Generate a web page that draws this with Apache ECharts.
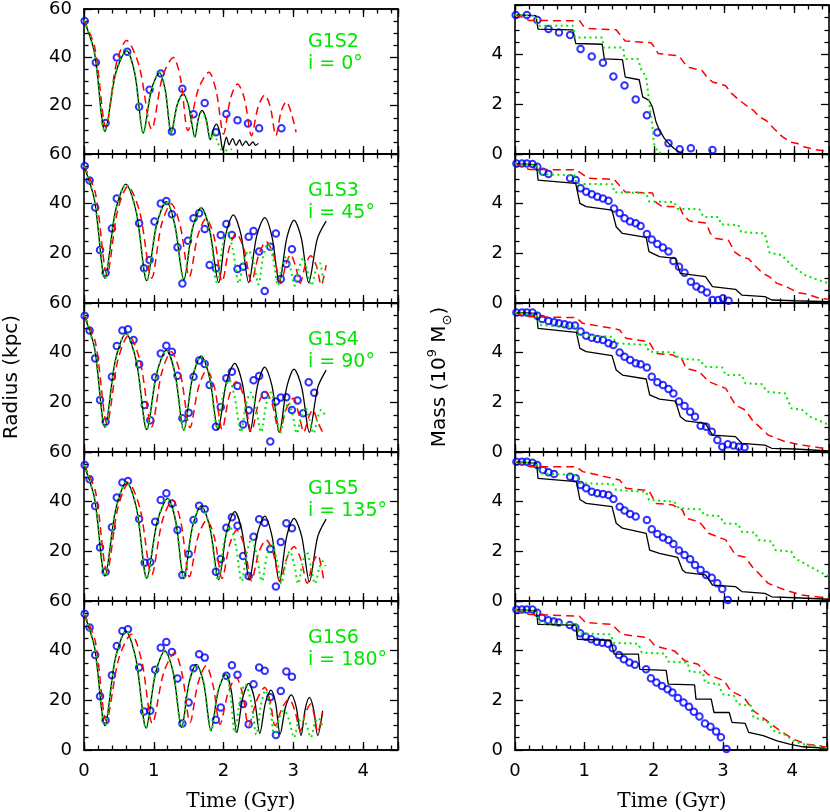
<!DOCTYPE html>
<html>
<head>
<meta charset="utf-8">
<title>Satellite radius and mass</title>
<script src="https://cdn.jsdelivr.net/npm/echarts@6/dist/echarts.min.js"></script>
<style>
  html, body { margin: 0; padding: 0; background: #fff; }
  #chart { width: 830px; height: 812px; }
</style>
</head>
<body>
<div id="chart"></div>
<script>
// ---- tick labels ----
const timeTicks = [0, 1, 2, 3, 4];
const radiusTicks = [20, 40, 60];
const radiusTicksBottom = [0, 20, 40, 60];
const massTicks = [0, 2, 4];

const runs = ['G1S2', 'G1S3', 'G1S4', 'G1S5', 'G1S6'];
const inclinations = ['i = 0°', 'i = 45°', 'i = 90°', 'i = 135°', 'i = 180°'];

// ---- radius (kpc) vs time (Gyr) ----
const radS2Black = [[0,55.3],[0.15,42],[0.30,9.3],[0.455,33.5],[0.61,42.8],[0.73,33],[0.85,8.6],[0.965,26.5],[1.08,33.6],[1.165,26.3],[1.25,8.6],[1.335,20.3],[1.42,25],[1.50,19.8],[1.59,7],[1.64,14.8],[1.69,18],[1.75,14.5],[1.81,5.9],[1.855,10.4],[1.90,12.4],[1.945,9],[1.99,1.6],[2.04,7],[2.08,3.8],[2.13,6.4],[2.18,3.6],[2.23,5.8],[2.27,3.5],[2.32,5.3],[2.37,3.5],[2.42,5],[2.46,3.6],[2.50,4.4]];
const radS2Green = [[0,55.3],[0.15,42],[0.30,9.3],[0.455,33.5],[0.61,42.8],[0.73,33],[0.85,8.6],[0.965,26.5],[1.08,33.6],[1.165,26.3],[1.25,8.6],[1.335,20.3],[1.42,25],[1.50,19.8],[1.59,7],[1.64,14.5],[1.69,17.5],[1.75,14],[1.81,6],[1.86,8.6],[1.90,6],[1.97,1.8],[2.05,1.5],[2.12,2]];
const radS2Red = [[0,55.3],[0.155,44],[0.315,11],[0.46,37],[0.61,47],[0.79,36.5],[0.97,10.3],[1.125,32],[1.28,39.9],[1.385,31],[1.49,9.7],[1.64,27],[1.79,33.8],[1.895,26],[2.0,8.3],[2.10,23],[2.20,29],[2.30,22.8],[2.40,7.6],[2.495,19.5],[2.59,24.4],[2.67,19.5],[2.75,7.6],[2.825,17.6],[2.90,21.7],[2.97,17],[3.04,9]];
const radS2Sat = [[0.01,55],[0.17,37.9],[0.31,12.8],[0.47,39.9],[0.62,42.3],[0.79,19.6],[0.94,26.6],[1.10,33.3],[1.26,9.3],[1.41,27],[1.57,16.4],[1.73,21.1],[1.89,9],[2.04,16.6],[2.20,14],[2.35,12.6],[2.51,10.7],[2.83,10.7]];

const radS3Black = [[0,55.2],[0.15,41.5],[0.30,9.9],[0.45,37],[0.60,47.9],[0.75,36.5],[0.90,9],[1.04,31.5],[1.18,40.8],[1.305,31],[1.43,9.3],[1.555,30],[1.68,38.4],[1.80,29.5],[1.93,8.2],[2.03,27.5],[2.14,35.5],[2.25,27.5],[2.36,8.2],[2.475,27],[2.59,34.4],[2.695,26.5],[2.80,8.2],[2.905,26],[3.01,33.4],[3.115,26],[3.22,8.2],[3.345,26],[3.47,33]];
const radS3Green = [[0,55.2],[0.15,41.5],[0.30,9.9],[0.45,37],[0.60,47.9],[0.75,36.5],[0.90,9],[1.04,31.5],[1.18,40.8],[1.305,31],[1.43,9.3],[1.555,30],[1.68,38.4],[1.80,29.5],[1.90,8.5],[1.98,22],[2.05,29],[2.13,22],[2.22,8],[2.29,17],[2.36,21],[2.43,16],[2.50,7.5],[2.57,19],[2.64,24],[2.71,18],[2.78,7],[2.84,15],[2.90,19],[2.96,14],[3.02,7],[3.08,14],[3.14,18],[3.20,13],[3.26,7],[3.32,13],[3.38,16],[3.43,8]];
const radS3Red = [[0,55.2],[0.165,44],[0.33,11.5],[0.48,37],[0.63,47],[0.80,36.5],[0.97,10],[1.11,31.5],[1.25,40],[1.38,31],[1.51,10.6],[1.63,27],[1.75,34],[1.865,26.5],[1.98,8.6],[2.08,22],[2.18,28],[2.29,22],[2.40,8.6],[2.505,19.5],[2.61,24.7],[2.715,19.5],[2.82,7.9],[2.89,15],[2.96,19.5],[3.03,15],[3.10,8],[3.17,15],[3.25,19],[3.33,15],[3.40,7.2],[3.47,15.3]];
const radS3Sat = [[0.01,55.2],[0.08,49.3],[0.16,38.5],[0.23,21.3],[0.31,12.2],[0.40,30],[0.47,42.1],[0.79,32.1],[0.86,14],[0.94,17.3],[1.01,32.8],[1.10,40.1],[1.18,41.1],[1.26,35.7],[1.34,22.4],[1.41,7.9],[1.49,25.1],[1.57,34.1],[1.65,36.1],[1.73,29.8],[1.80,15.3],[1.89,14],[1.96,27.4],[2.04,31.8],[2.12,27.4],[2.20,13.7],[2.28,14.6],[2.36,26.7],[2.43,29],[2.51,20.7],[2.59,4.8],[2.67,22.7],[2.75,28],[2.82,9.7],[2.90,15.7],[2.98,21.6],[3.06,9.9]];

const radS4Black = [[0,55.2],[0.15,42],[0.30,9.9],[0.45,37],[0.60,47.8],[0.75,36.5],[0.90,9],[1.04,31.5],[1.18,41],[1.305,31.5],[1.43,8.7],[1.555,30],[1.68,38.7],[1.80,30],[1.92,9],[2.04,28],[2.16,35.7],[2.27,27.5],[2.38,8.2],[2.485,26.5],[2.59,34.2],[2.695,26.5],[2.80,7.9],[2.905,26],[3.01,33.4],[3.12,26],[3.23,7.9],[3.35,26],[3.47,33]];
const radS4Green = [[0,55.2],[0.15,42],[0.30,9.9],[0.45,37],[0.60,47.8],[0.75,36.5],[0.90,9],[1.04,31.5],[1.18,41],[1.305,31.5],[1.43,8.7],[1.555,30],[1.68,38.7],[1.80,30],[1.91,9.5],[2.00,24],[2.08,29],[2.16,22],[2.25,8],[2.32,19],[2.39,24],[2.46,18],[2.54,8],[2.61,19],[2.68,24],[2.74,18],[2.81,7.5],[2.87,15],[2.93,20],[2.99,15],[3.05,7.5],[3.11,14],[3.17,18],[3.23,13],[3.29,7.5],[3.35,14],[3.40,17],[3.45,15]];
const radS4Red = [[0,55.2],[0.165,44],[0.33,11.5],[0.485,37],[0.64,47],[0.805,36.5],[0.97,10.2],[1.11,31.5],[1.25,40.4],[1.385,31],[1.52,9.8],[1.64,26],[1.76,33],[1.87,26],[1.98,9.1],[2.08,22.5],[2.18,28.3],[2.29,22.5],[2.40,8.2],[2.50,19.5],[2.60,24.3],[2.70,19],[2.80,8],[2.90,17.5],[3.00,21.6],[3.08,15],[3.15,8],[3.22,14],[3.28,17],[3.35,12],[3.42,8]];
const radS4Sat = [[0.01,54.9],[0.08,48.9],[0.16,37.7],[0.23,20.9],[0.31,12.2],[0.40,30.3],[0.47,42.7],[0.55,48.9],[0.63,49.4],[0.71,45.1],[0.79,35.3],[0.87,18.9],[0.95,12.8],[1.02,30.1],[1.10,39.7],[1.18,42.8],[1.26,40.4],[1.34,30.7],[1.41,13.6],[1.50,15.8],[1.57,30.3],[1.65,36.8],[1.73,35.4],[1.80,27],[1.89,10.2],[1.96,18.1],[2.04,29.7],[2.12,32.3],[2.20,26.6],[2.28,11.1],[2.36,16.8],[2.43,28.9],[2.51,30.6],[2.59,23],[2.67,4.2],[2.75,20.3],[2.82,21.9],[2.90,22],[2.98,16.9],[3.06,20.7],[3.14,15.6],[3.22,28.1],[3.30,23.9]];

const radS5Black = [[0,54.8],[0.15,41.5],[0.30,10],[0.455,37],[0.61,48],[0.755,37],[0.90,9.1],[1.05,32],[1.20,41.3],[1.315,32],[1.43,9.1],[1.555,30],[1.68,38.3],[1.805,29.5],[1.93,8.5],[2.045,28],[2.16,36],[2.265,28],[2.37,8.5],[2.48,26.5],[2.59,34.2],[2.695,26],[2.80,7.8],[2.905,26],[3.01,33.3],[3.12,26],[3.23,7.8],[3.35,26],[3.47,33]];
const radS5Green = [[0,54.8],[0.15,41.5],[0.30,10],[0.455,37],[0.61,48],[0.755,37],[0.90,9.1],[1.05,32],[1.20,41.3],[1.315,32],[1.43,9.1],[1.555,30],[1.68,38.3],[1.805,29.5],[1.92,8.5],[2.01,24],[2.09,30],[2.17,23],[2.26,8],[2.33,19],[2.40,25],[2.47,19],[2.55,8],[2.62,18],[2.69,23],[2.76,17],[2.83,7],[2.89,15],[2.95,20],[3.01,15],[3.07,7],[3.13,15],[3.19,20],[3.25,14],[3.31,7],[3.37,13],[3.42,16],[3.46,14]];
const radS5Red = [[0,54.8],[0.165,44],[0.33,11.8],[0.485,37.5],[0.64,47.4],[0.805,37],[0.97,10.5],[1.12,32],[1.27,40.7],[1.39,31.5],[1.51,9.8],[1.635,26],[1.76,32.6],[1.87,25.5],[1.98,9.1],[2.085,22.5],[2.19,28.6],[2.295,22.5],[2.40,8.2],[2.505,19.5],[2.61,24.6],[2.71,19.5],[2.81,7.8],[2.91,17.5],[3.01,21.9],[3.105,17],[3.20,7.1],[3.275,15],[3.35,18.5],[3.40,14],[3.44,7.8]];
const radS5Sat = [[0.01,54.8],[0.08,49],[0.16,38.3],[0.23,21.5],[0.31,11.8],[0.40,29.7],[0.47,41.7],[0.55,47.7],[0.63,48.3],[0.79,33],[0.87,15.4],[0.95,15.6],[1.02,31.9],[1.10,40.7],[1.18,43.4],[1.26,39.3],[1.34,28.6],[1.41,10.5],[1.50,18.9],[1.57,32.6],[1.65,38.4],[1.73,36.9],[1.89,11.8],[1.96,16.9],[2.04,29.5],[2.12,33.7],[2.20,30.3],[2.28,18.1],[2.36,10.1],[2.43,25.9],[2.51,32.9],[2.59,31.5],[2.67,20.9],[2.75,5.8],[2.82,23.8],[2.90,31.3],[2.98,29.3]];

const radS6Black = [[0,54.9],[0.15,41.5],[0.30,9.8],[0.45,37],[0.60,47.9],[0.745,36.5],[0.89,8.8],[1.025,31],[1.16,39.9],[1.28,31],[1.40,9.1],[1.505,27],[1.61,34.5],[1.715,27],[1.82,7.8],[1.925,24],[2.03,30.5],[2.11,24],[2.19,7.1],[2.275,21],[2.36,26.8],[2.44,21],[2.52,6.7],[2.60,19],[2.68,24.1],[2.745,19],[2.81,6.4],[2.89,17.5],[2.97,22.2],[3.04,17.5],[3.11,5.8],[3.17,16.5],[3.23,21.2],[3.29,16.5],[3.35,5.8],[3.42,15.8]];
const radS6Green = [[0,54.9],[0.15,41.5],[0.30,9.8],[0.45,37],[0.60,47.9],[0.745,36.5],[0.89,8.8],[1.025,31],[1.16,39.9],[1.28,31],[1.40,9.1],[1.505,27],[1.61,34.5],[1.715,27],[1.82,7.8],[1.925,24],[2.03,30.5],[2.10,22],[2.16,7],[2.235,20],[2.31,26.5],[2.39,20],[2.47,6.2],[2.535,18],[2.60,24],[2.665,18],[2.73,5.4],[2.80,13],[2.87,16],[2.94,12],[3.01,5],[3.07,11],[3.13,13],[3.19,10],[3.25,5],[3.31,11],[3.36,13],[3.42,9]];
const radS6Red = [[0,54.9],[0.16,44],[0.32,11.8],[0.50,37],[0.68,46.6],[0.83,35.5],[0.98,10.7],[1.14,31],[1.30,39.2],[1.41,30],[1.52,11.1],[1.635,27],[1.75,33.9],[1.85,26],[1.95,10.4],[2.065,23],[2.18,29.2],[2.27,23],[2.36,9.8],[2.475,20],[2.59,25.2],[2.665,20],[2.74,9.8],[2.84,17],[2.94,20.5],[3.02,16],[3.10,7.8],[3.175,15],[3.25,18.5],[3.30,14],[3.35,7.1],[3.42,15.1]];
const radS6Sat = [[0.01,54.9],[0.08,49.3],[0.16,38.3],[0.23,21.6],[0.31,12],[0.40,30.1],[0.47,41.9],[0.55,47.9],[0.63,48.6],[0.79,33.2],[0.86,15.5],[0.95,15.8],[1.02,32.3],[1.10,41.2],[1.18,43.5],[1.26,39.5],[1.34,28.8],[1.41,10.7],[1.50,19.1],[1.57,32.9],[1.65,38.6],[1.73,37.2],[1.89,12.2],[1.96,17.1],[2.04,29.9],[2.12,34.1],[2.20,30.3],[2.28,18.5],[2.36,10.4],[2.43,26.5],[2.51,33.2],[2.59,31.9],[2.67,21.2],[2.75,6],[2.82,23.8],[2.90,31.6],[2.98,29.5]];

// ---- bound mass (1e9 Msun) vs time (Gyr) ----
const massS2Black = [[0,5.6],[0.30,5.57],[0.33,5.03],[0.83,5.0],[0.87,4.45],[1.25,4.42],[1.28,3.83],[1.54,3.8],[1.58,3.1],[1.78,2.99],[1.83,2.3],[1.92,2.16],[1.97,1.89],[2.02,1.3],[2.07,0.96],[2.14,0.63],[2.21,0.4],[2.28,0.22],[2.35,0.09],[2.42,0]];
const massS2Green = [[0,5.6],[0.30,5.56],[0.31,5.16],[0.83,5.16],[0.86,4.69],[1.25,4.69],[1.27,4.29],[1.55,4.29],[1.57,3.83],[1.76,3.83],[1.81,3.4],[1.88,3.09],[1.92,2.16],[1.97,1.09],[1.99,0.43],[2.04,0.09],[2.14,0]];
const massS2Red = [[0,5.6],[0.12,5.5],[0.20,5.38],[0.93,5.36],[0.98,5.15],[1.05,5.05],[1.45,5.0],[1.52,4.75],[1.58,4.55],[1.95,4.48],[2.0,4.3],[2.05,4.05],[2.35,3.95],[2.43,3.65],[2.5,3.48],[2.68,3.36],[2.75,3.1],[2.83,2.9],[3.02,2.75],[3.1,2.45],[3.2,2.2],[3.34,1.9],[3.42,1.75],[3.5,1.5],[3.6,1.35],[3.72,1.0],[3.83,0.7],[3.95,0.48],[4.05,0.42],[4.15,0.28],[4.3,0.18],[4.5,0.1]];
const massS2Sat = [[0.01,5.6],[0.17,5.6],[0.32,5.4],[0.48,5.03],[0.63,4.89],[0.79,4.79],[0.94,4.23],[1.10,3.93],[1.26,3.67],[1.41,3.12],[1.57,2.76],[1.73,2.19],[1.89,1.56],[2.04,0.87],[2.20,0.43],[2.36,0.19],[2.52,0.23],[2.83,0.16]];

const massS3Black = [[0,5.62],[0.31,5.56],[0.33,4.95],[0.87,4.82],[0.93,4.01],[1.02,3.88],[1.39,3.74],[1.45,3.07],[1.54,2.8],[1.88,2.64],[1.92,2.07],[2.07,1.87],[2.30,1.8],[2.37,1.19],[2.73,1.06],[2.83,0.66],[3.16,0.55],[3.25,0.32],[3.58,0.26],[3.68,0.12],[4.01,0.09],[4.5,0.05]];
const massS3Green = [[0,5.62],[0.31,5.56],[0.35,5.18],[0.85,5.15],[0.88,4.8],[1.40,4.78],[1.42,4.46],[1.88,4.42],[1.92,4.09],[2.28,4.06],[2.33,3.79],[2.64,3.78],[2.70,3.47],[2.92,3.46],[2.95,3.17],[3.20,3.14],[3.24,2.86],[3.58,2.8],[3.65,2.02],[3.82,1.93],[3.96,1.53],[4.15,1.13],[4.34,0.93],[4.5,0.79]];
const massS3Red = [[0,5.62],[0.1,5.5],[0.2,5.38],[0.88,5.36],[0.95,5.22],[1.05,5.02],[1.42,4.98],[1.5,4.72],[1.58,4.47],[1.97,4.43],[2.02,4.05],[2.1,3.9],[2.36,3.86],[2.42,3.5],[2.5,3.3],[2.74,3.22],[2.8,2.8],[2.88,2.6],[3.06,2.52],[3.15,2.05],[3.25,1.85],[3.35,1.78],[3.45,1.47],[3.55,1.2],[3.65,1.05],[3.75,0.8],[3.9,0.64],[4.05,0.42],[4.2,0.35],[4.35,0.2],[4.5,0.15]];
const massS3Sat = [[0.02,5.62],[0.10,5.62],[0.17,5.62],[0.25,5.6],[0.32,5.49],[0.40,5.29],[0.48,5.19],[0.79,5.02],[0.87,4.95],[0.94,4.62],[1.02,4.48],[1.10,4.38],[1.18,4.28],[1.26,4.21],[1.34,4.12],[1.42,3.81],[1.50,3.61],[1.57,3.41],[1.65,3.28],[1.73,3.21],[1.80,3.1],[1.89,2.78],[1.96,2.56],[2.04,2.38],[2.12,2.23],[2.20,2.07],[2.27,1.69],[2.35,1.46],[2.43,1.22],[2.52,0.86],[2.60,0.66],[2.67,0.55],[2.75,0.42],[2.83,0.12],[2.91,0.12],[2.98,0.19],[3.06,0.09]];

const massS4Black = [[0,5.62],[0.31,5.58],[0.33,4.98],[0.88,4.82],[0.93,4.17],[1.02,4.04],[1.39,3.88],[1.45,3.3],[1.54,3.1],[1.88,2.94],[1.93,2.3],[2.07,2.13],[2.30,2.05],[2.37,1.42],[2.45,1.25],[2.73,1.15],[2.83,0.68],[3.16,0.62],[3.25,0.35],[3.58,0.28],[3.68,0.15],[4.01,0.12],[4.5,0.04]];
const massS4Green = [[0,5.62],[0.31,5.52],[0.35,5.11],[0.88,5.05],[0.90,4.71],[1.40,4.64],[1.45,4.38],[1.88,4.31],[1.92,4.04],[2.28,4.01],[2.35,3.77],[2.66,3.7],[2.71,3.44],[2.97,3.4],[3.02,3.1],[3.25,3.1],[3.30,2.77],[3.54,2.73],[3.61,2.43],[3.87,2.36],[3.96,1.76],[4.11,1.7],[4.23,1.42],[4.5,1.09]];
const massS4Red = [[0,5.62],[0.1,5.5],[0.21,5.45],[0.88,5.41],[0.97,5.18],[1.4,4.98],[1.5,4.91],[1.59,4.58],[1.92,4.44],[2.02,3.97],[2.26,3.91],[2.4,3.7],[2.45,3.37],[2.64,3.23],[2.78,2.83],[3.02,2.56],[3.16,1.89],[3.3,1.69],[3.4,1.29],[3.63,0.68],[3.87,0.42],[4.11,0.28],[4.5,0.12]];
const massS4Sat = [[0.02,5.62],[0.10,5.62],[0.17,5.62],[0.25,5.62],[0.32,5.49],[0.39,5.36],[0.48,5.28],[0.56,5.22],[0.63,5.18],[0.71,5.14],[0.78,5.09],[0.86,5.09],[0.94,4.85],[1.02,4.68],[1.10,4.6],[1.18,4.55],[1.26,4.51],[1.34,4.38],[1.41,4.31],[1.50,4.01],[1.57,3.84],[1.65,3.7],[1.73,3.57],[1.80,3.53],[1.89,3.4],[1.96,3.03],[2.04,2.81],[2.12,2.7],[2.20,2.54],[2.27,2.36],[2.35,2.03],[2.43,1.85],[2.51,1.62],[2.58,1.42],[2.66,1.06],[2.74,1.02],[2.82,0.82],[2.90,0.48],[2.97,0.21],[3.05,0.31],[3.13,0.26],[3.21,0.21],[3.29,0.19]];

const massS5Black = [[0,5.61],[0.31,5.54],[0.33,4.94],[0.88,4.81],[0.93,4.09],[1.02,3.93],[1.39,3.8],[1.45,3.13],[1.54,2.93],[1.88,2.72],[1.93,2.05],[2.07,1.92],[2.33,1.76],[2.40,1.25],[2.45,1.14],[2.73,1.05],[2.83,0.64],[3.16,0.58],[3.25,0.38],[3.58,0.31],[3.68,0.17],[4.01,0.13],[4.5,0.07]];
const massS5Green = [[0,5.61],[0.31,5.54],[0.36,5.14],[0.88,5.07],[0.93,4.74],[1.40,4.71],[1.45,4.47],[1.88,4.4],[1.92,4.07],[2.28,4.0],[2.35,3.73],[2.66,3.69],[2.71,3.46],[2.94,3.42],[2.99,3.13],[3.2,3.1],[3.25,2.79],[3.44,2.75],[3.49,2.46],[3.68,2.39],[3.73,2.05],[3.96,1.99],[4.01,1.72],[4.23,1.38],[4.5,0.98]];
const massS5Red = [[0,5.61],[0.1,5.5],[0.21,5.41],[0.88,5.41],[0.97,5.21],[1.40,4.94],[1.5,4.87],[1.59,4.54],[1.92,4.44],[2.02,3.93],[2.26,3.87],[2.4,3.66],[2.45,3.33],[2.64,3.19],[2.78,2.72],[3.02,2.46],[3.16,1.85],[3.3,1.76],[3.4,1.38],[3.63,0.71],[3.87,0.44],[4.11,0.24],[4.5,0.11]];
const massS5Sat = [[0.02,5.61],[0.10,5.61],[0.17,5.61],[0.25,5.57],[0.32,5.48],[0.40,5.28],[0.48,5.18],[0.56,5.11],[0.79,5.0],[0.87,4.94],[0.94,4.67],[1.02,4.54],[1.10,4.4],[1.18,4.34],[1.26,4.31],[1.34,4.27],[1.41,4.11],[1.50,3.8],[1.57,3.64],[1.65,3.5],[1.73,3.4],[1.89,3.26],[1.96,2.89],[2.04,2.7],[2.12,2.56],[2.20,2.46],[2.27,2.3],[2.35,2.03],[2.43,1.85],[2.51,1.68],[2.58,1.45],[2.66,1.25],[2.74,1.05],[2.82,0.94],[2.90,0.71],[2.97,0.48],[3.05,0.04]];

const massS6Black = [[0,5.66],[0.31,5.6],[0.33,5.06],[0.88,5.03],[0.90,4.46],[1.38,4.42],[1.43,3.86],[1.78,3.86],[1.80,3.25],[2.18,3.21],[2.21,2.65],[2.59,2.62],[2.61,2.05],[2.83,2.05],[2.87,1.51],[3.09,1.51],[3.13,1.11],[3.32,1.07],[3.37,0.71],[3.58,0.58],[3.78,0.37],[3.96,0.24],[4.15,0.13],[4.5,0.07]];
const massS6Green = [[0,5.66],[0.31,5.6],[0.36,5.09],[0.88,5.09],[0.93,4.69],[1.38,4.66],[1.42,4.32],[1.78,4.28],[1.83,3.92],[2.16,3.88],[2.21,3.56],[2.49,3.52],[2.52,3.16],[2.71,3.12],[2.74,2.72],[2.94,2.65],[2.99,2.25],[3.16,2.18],[3.21,1.85],[3.4,1.78],[3.44,1.31],[3.63,1.18],[3.73,0.78],[3.92,0.58],[4.01,0.37],[4.15,0.24],[4.5,0.08]];
const massS6Red = [[0,5.66],[0.1,5.55],[0.21,5.46],[0.93,5.39],[1.02,5.13],[1.4,5.06],[1.54,4.66],[1.92,4.52],[2.02,4.19],[2.3,3.99],[2.45,3.59],[2.64,3.45],[2.78,3.05],[3.02,2.78],[3.11,2.38],[3.3,2.12],[3.44,1.58],[3.63,1.18],[3.82,0.78],[4.01,0.44],[4.2,0.24],[4.5,0.11]];
const massS6Sat = [[0.02,5.66],[0.10,5.66],[0.17,5.66],[0.25,5.66],[0.32,5.53],[0.39,5.33],[0.48,5.22],[0.56,5.17],[0.63,5.13],[0.79,5.03],[0.87,4.93],[0.94,4.7],[1.02,4.56],[1.10,4.46],[1.18,4.36],[1.26,4.32],[1.34,4.28],[1.41,4.1],[1.50,3.83],[1.57,3.65],[1.65,3.52],[1.73,3.43],[1.89,3.25],[1.96,2.89],[2.04,2.72],[2.12,2.58],[2.20,2.45],[2.27,2.32],[2.35,2.09],[2.43,1.91],[2.51,1.74],[2.58,1.54],[2.66,1.35],[2.74,1.07],[2.82,0.94],[2.90,0.75],[2.97,0.51],[3.05,0.04]];

const radius = [
  [radS2Black, radS2Red, radS2Green, radS2Sat],
  [radS3Black, radS3Red, radS3Green, radS3Sat],
  [radS4Black, radS4Red, radS4Green, radS4Sat],
  [radS5Black, radS5Red, radS5Green, radS5Sat],
  [radS6Black, radS6Red, radS6Green, radS6Sat]
];
const mass = [
  [massS2Black, massS2Red, massS2Green, massS2Sat],
  [massS3Black, massS3Red, massS3Green, massS3Sat],
  [massS4Black, massS4Red, massS4Green, massS4Sat],
  [massS5Black, massS5Red, massS5Green, massS5Sat],
  [massS6Black, massS6Red, massS6Green, massS6Sat]
];

// ---- layout ----
const tops = [5, 154, 303, 452, 601];
const panelH = 149;
const lefts = [84, 515];
const panelW = 314;
const GREEN = '#00e600';
const FONT = 'DejaVu Sans';

function frameLine() { return { show: true, onZero: false, lineStyle: { color: '#000', width: 1.6 } }; }
function ticks(len) { return { show: true, inside: true, length: len, lineStyle: { color: '#000', width: 1.3 } }; }

const grids = [], xAxes = [], yAxes = [], series = [], graphic = [];

for (let row = 0; row < 5; row++) {
  for (let col = 0; col < 2; col++) {
    const g = grids.length;
    const bottomRow = row === 4;
    const isRad = col === 0;
    grids.push({ left: lefts[col], top: tops[row], width: panelW, height: panelH });

    // main (labelled) and minor time axes, bottom and top of every panel
    ['bottom', 'top'].forEach(pos => {
      xAxes.push({ type: 'value', gridIndex: g, position: pos, min: 0, max: 4.5, interval: 1,
        axisLine: frameLine(), splitLine: { show: false },
        axisTick: ticks(8),
        axisLabel: { show: pos === 'bottom' && bottomRow, margin: 12, fontFamily: FONT, fontSize: 18, color: '#000',
          formatter: v => timeTicks.includes(v) ? String(v) : '' } });
      xAxes.push({ type: 'value', gridIndex: g, position: pos, min: 0, max: 4.5, interval: 0.2,
        axisLine: frameLine(), splitLine: { show: false },
        axisTick: ticks(4.5),
        axisLabel: { show: false } });
    });

    const labels = isRad ? (bottomRow ? radiusTicksBottom : radiusTicks) : massTicks;
    ['left', 'right'].forEach(pos => {
      yAxes.push({ type: 'value', gridIndex: g, position: pos, min: 0,
        max: isRad ? 60 : 6, interval: isRad ? 20 : 2,
        axisLine: frameLine(), splitLine: { show: false },
        axisTick: ticks(8),
        minorTick: { show: true, splitNumber: 4, length: 4.5, lineStyle: { color: '#000', width: 1.3 } },
        minorSplitLine: { show: false },
        axisLabel: { show: pos === 'left', margin: 12, fontFamily: FONT, fontSize: 18, color: '#000',
          formatter: v => labels.includes(v) ? String(v) : '' } });
    });

    const sets = isRad ? radius[row] : mass[row];
    const smooth = isRad ? 0.3 : false;
    const xi = 4 * g, yi = 2 * g;
    series.push({ type: 'line', xAxisIndex: xi, yAxisIndex: yi, data: sets[0], smooth: smooth, showSymbol: false,
      lineStyle: { color: '#000', width: 1.3 } });
    series.push({ type: 'line', xAxisIndex: xi, yAxisIndex: yi, data: sets[1], smooth: smooth, showSymbol: false,
      lineStyle: { color: '#ff0000', width: 1.5, type: [8, 5] } });
    series.push({ type: 'line', xAxisIndex: xi, yAxisIndex: yi, data: sets[2], smooth: smooth, showSymbol: false,
      lineStyle: { color: GREEN, width: 2, type: [2, 3.5] } });
    series.push({ type: 'scatter', xAxisIndex: xi, yAxisIndex: yi, data: sets[3], symbol: 'circle', symbolSize: 6.5,
      itemStyle: { color: 'rgba(0,0,0,0)', borderColor: '#0000ff', borderWidth: 2 } });
  }
  graphic.push({ type: 'text', x: 308, y: tops[row] + 37,
    style: { text: runs[row], fill: GREEN, font: '19px "DejaVu Sans"', align: 'left', verticalAlign: 'middle' } });
  graphic.push({ type: 'text', x: 308, y: tops[row] + 59,
    style: { text: inclinations[row], fill: GREEN, font: '19px "DejaVu Sans"', align: 'left', verticalAlign: 'middle' } });
}

graphic.push({ type: 'text', x: 12, y: 377, rotation: Math.PI / 2,
  style: { text: 'Radius (kpc)', fill: '#000', font: '20px "DejaVu Sans"', align: 'center', verticalAlign: 'middle' } });
graphic.push({ type: 'text', x: 440, y: 377, rotation: Math.PI / 2,
  style: { text: '{a|Mass (10}{s|9}{a| M}{o|⊙}{a|)}', fill: '#000', align: 'center', verticalAlign: 'middle',
    rich: {
      a: { fontFamily: FONT, fontSize: 20, lineHeight: 28, verticalAlign: 'middle' },
      s: { fontFamily: FONT, fontSize: 13, lineHeight: 28, verticalAlign: 'top' },
      o: { fontFamily: FONT, fontSize: 13, lineHeight: 28, verticalAlign: 'bottom' }
    } } });
graphic.push({ type: 'text', x: 241, y: 802,
  style: { text: 'Time (Gyr)', fill: '#000', font: '20px "DejaVu Serif"', align: 'center', verticalAlign: 'middle' } });
graphic.push({ type: 'text', x: 672, y: 802,
  style: { text: 'Time (Gyr)', fill: '#000', font: '20px "DejaVu Serif"', align: 'center', verticalAlign: 'middle' } });

const chart = echarts.init(document.getElementById('chart'));
chart.setOption({
  animation: false,
  grid: grids,
  xAxis: xAxes,
  yAxis: yAxes,
  series: series,
  graphic: graphic
});
</script>
</body>
</html>
